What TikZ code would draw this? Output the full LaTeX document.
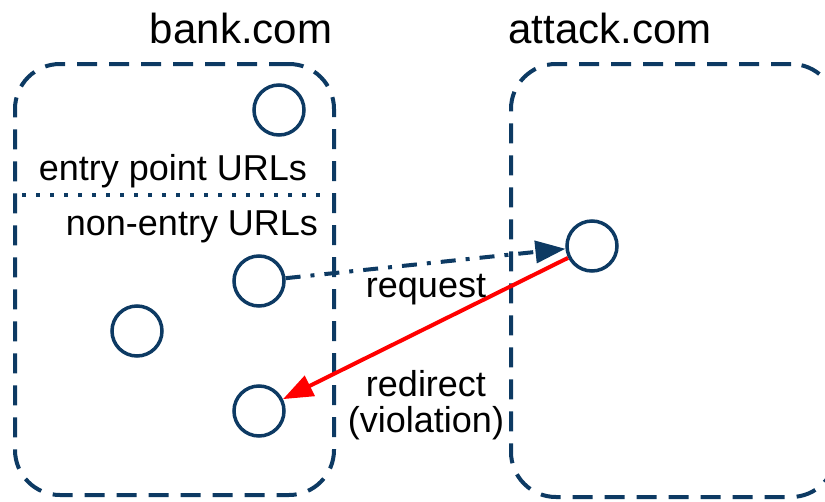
\documentclass[tikz,border=0pt]{standalone}
\usepackage{fontspec}
\setmainfont{Liberation Sans}
\usetikzlibrary{arrows.meta}
\definecolor{navy}{HTML}{0D3A63}
\definecolor{redarrow}{HTML}{FF0000}
\begin{document}
\begin{tikzpicture}[x=1pt,y=-1pt,
  site/.style={draw=navy, line width=4pt, dash pattern=on 20pt off 12pt, rounded corners=45pt, inner sep=0pt},
  url/.style={circle, draw=navy, line width=3.5pt, minimum size=50pt, inner sep=0pt},
  title/.style={anchor=base, inner sep=0pt, font=\fontsize{42}{48}\selectfont},
  label/.style={anchor=base, inner sep=0pt, font=\fontsize{36}{42}\selectfont},
  divider/.style={draw=navy, line width=3.5pt, dash pattern=on 4pt off 10pt},
  req/.style={draw=navy, line width=4pt, dash pattern=on 15pt off 10pt on 4pt off 10pt, -{Triangle[length=30pt,width=22pt]}},
  redir/.style={draw=redarrow, line width=4pt, -{Triangle[length=30pt,width=22pt]}}]
\useasboundingbox (0,0) rectangle (825,501);
\node[site, minimum width=319pt, minimum height=431pt] (bank) at (174.5,279.5) {};
\node[site, minimum width=325pt, minimum height=433pt] (attack) at (673.5,280.5) {};
\node[title] (banklbl) at (241,43) {bank.com};
\node[title] (attacklbl) at (610,43) {attack.com};
\node[label] (entry) at (173,180) {entry point URLs};
\node[label] (nonentry) at (192,235) {non-entry URLs};
\coordinate (dl) at (22,195);
\coordinate (dr) at (322,195);
\draw[divider] (dl) -- (dr);
\node[url] (c1) at (279,110) {};
\node[url] (c2) at (259,281) {};
\node[url] (c3) at (137,331) {};
\node[url] (c4) at (259,411) {};
\node[url] (c5) at (592,246) {};
\draw[req] (c2) -- (c5);
\draw[redir] (c5) -- (c4);
\node[label] (reqlbl) at (426,297) {request};
\node[label] (redirlbl) at (426,396) {redirect};
\node[label] (violbl) at (426,432) {(violation)};
\end{tikzpicture}
\end{document}
